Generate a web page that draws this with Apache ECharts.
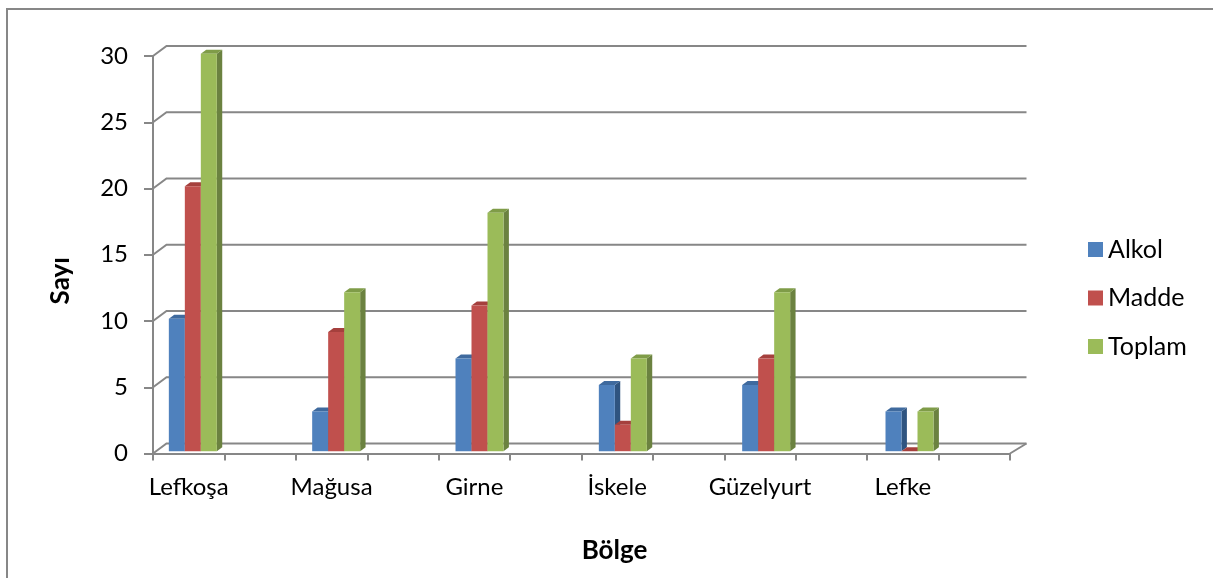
<!DOCTYPE html>
<html><head><meta charset="utf-8">
<style>html,body{margin:0;padding:0;background:#fff}#c{width:1213px;height:578px}</style>
<script src="https://cdn.jsdelivr.net/npm/echarts@6/dist/echarts.min.js"></script>
</head><body><div id="c"></div>
<script>
const regions = ['Lefkoşa','Mağusa','Girne','İskele','Güzelyurt','Lefke'];
const alkol  = [10,3,7,5,5,3];
const madde  = [20,9,11,2,7,0];
const toplam = [30,12,18,7,12,3];
const yTicks = [0,5,10,15,20,25,30];
const xSlots = regions.flatMap(r => [r,'']);

const GREY = '#878787', FONT = 'Lato, "Open Sans", sans-serif';
const WALL = [13.5,-10], WALL_END = 16.5, DEPTH = [5.4,-4], SHIFT = [4,-2.3], DRIFT = 3;

function wallLines(params, api){
  const r = params.coordSys, y = api.coord([0, api.value(1)])[1];
  const style = {stroke:GREY, lineWidth:2, fill:'none'};
  const l = r.x, e = r.x + r.width;
  const kids = [
    {type:'polyline', shape:{points:[[l,y],[l+WALL[0],y+WALL[1]],[e+WALL_END,y+WALL[1]]]}, style}
  ];
  if (api.value(1) === 0) kids.push({type:'line', shape:{x1:e,y1:y,x2:e+WALL_END,y2:y+WALL[1]}, style});
  return {type:'group', children:kids};
}

function bar3d(offset, front, side, top){
  return function(params, api){
    const c = api.coord([api.value(0), api.value(1)]);
    const b = api.coord([api.value(0), 0]);
    const r = params.coordSys;
    const w = api.size([1,0])[0] * 0.224;
    const drift = DRIFT * (c[0]-r.x) / r.width;
    const x0 = c[0] + SHIFT[0] + drift + (offset-0.5)*w, x1 = x0 + w;
    const yT = c[1] + SHIFT[1], yB = b[1] + SHIFT[1];
    const dx = DEPTH[0], dy = DEPTH[1];
    return {type:'group', children:[
      {type:'polygon', shape:{points:[[x1,yT],[x1+dx,yT+dy],[x1+dx,yB+dy],[x1,yB]]}, style:{fill:side}},
      {type:'polygon', shape:{points:[[x0,yT],[x0+dx,yT+dy],[x1+dx,yT+dy],[x1,yT]]}, style:{fill:top}},
      {type:'rect', shape:{x:x0,y:yT,width:w,height:yB-yT}, style:{fill:front}}
    ]};
  };
}
function barSeries(name, vals, offset, front, side, top){
  return {type:'custom', name, coordinateSystem:'cartesian2d', clip:false, z:3,
    itemStyle:{color:front}, renderItem:bar3d(offset,front,side,top),
    encode:{x:0,y:1}, data:vals.map((v,i)=>[i*2,v])};
}

const chart = echarts.init(document.getElementById('c'), null, {renderer:'canvas'});
chart.setOption({
  animation:false,
  backgroundColor:'#fff',
  textStyle:{fontFamily:FONT},
  grid:{left:153, top:56, width:857, height:397.5, containLabel:false},
  graphic:[
    {type:'polyline', silent:true, shape:{points:[[7,578],[7,9],[1213,9]]}, style:{stroke:GREY,lineWidth:2,fill:'none'}}
  ],
  legend:{
    orient:'vertical', left:1083, top:232, itemWidth:15, itemHeight:15, itemGap:23.5, icon:'rect',
    selectedMode:false, data:['Alkol','Madde','Toplam'],
    textStyle:{fontFamily:FONT, fontSize:25, color:'#000'}
  },
  xAxis:{
    type:'category', data:xSlots,
    name:'Bölge', nameLocation:'middle', nameGap:84,
    nameTextStyle:{fontFamily:FONT, fontSize:26, fontWeight:'bold', color:'#000', padding:[0,0,0,66]},
    axisLine:{lineStyle:{color:GREY,width:2}},
    axisTick:{show:true, interval:0, length:7, lineStyle:{color:GREY,width:2}},
    axisLabel:{interval:0, margin:22, fontFamily:FONT, fontSize:24, color:'#000'},
    splitLine:{show:false}
  },
  yAxis:{
    type:'value', min:0, max:30, interval:5,
    name:'Sayı', nameLocation:'middle', nameGap:79, nameRotate:90,
    nameTextStyle:{fontFamily:FONT, fontSize:26, fontWeight:'bold', color:'#000', padding:[0,52,0,0]},
    axisLine:{show:true, lineStyle:{color:GREY,width:2}},
    axisTick:{show:true, length:9, lineStyle:{color:GREY,width:2}},
    axisLabel:{margin:25, fontFamily:FONT, fontSize:24, color:'#000', padding:[6,0,0,0]},
    splitLine:{show:false}
  },
  series:[
    {type:'custom', name:'duvar', coordinateSystem:'cartesian2d', clip:false, z:1, silent:true,
      renderItem:wallLines, encode:{y:1}, data:yTicks.map(v=>[0,v])},
    barSeries('Alkol', alkol, -1, '#4F81BD', '#2F5480', '#3F6A9E'),
    barSeries('Madde', madde, 0, '#C0504D', '#8C3A38', '#A5403D'),
    barSeries('Toplam', toplam, 1, '#9BBB59', '#6B8240', '#7F9C48')
  ]
});
</script></body></html>
